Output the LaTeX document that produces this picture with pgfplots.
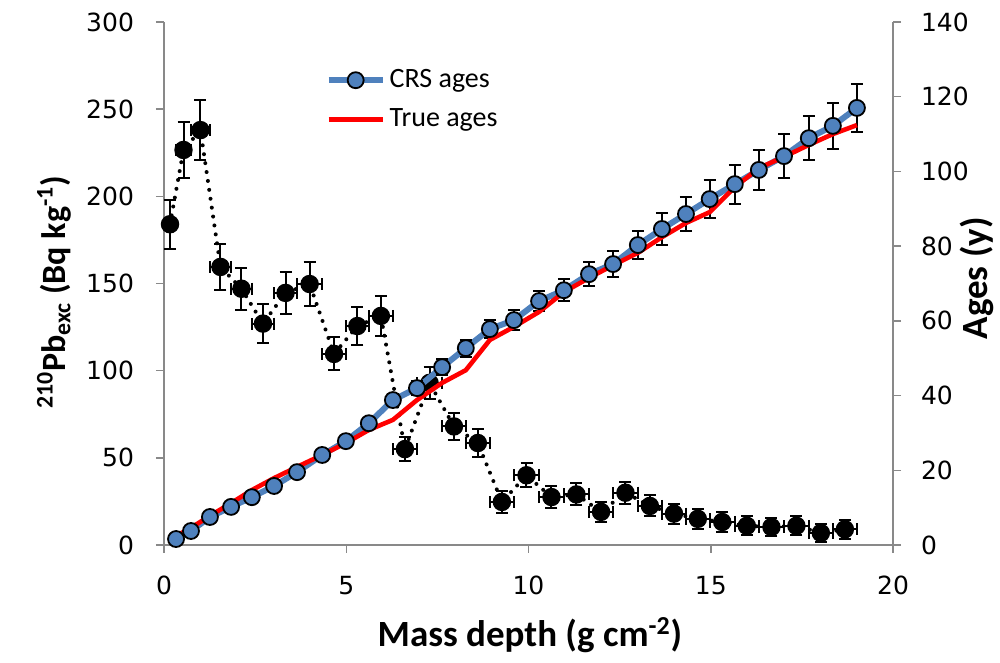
\documentclass[border=0pt]{standalone}
\usepackage{fontspec}
\setmainfont{Carlito}
\newfontfamily\tickfont{DejaVu Sans}
\usepackage{pgfplots}
\pgfplotsset{compat=1.18}
\usepackage{pgfplotstable}
\definecolor{crsblue}{HTML}{4F81BD}
\definecolor{axgray}{HTML}{898989}

\pgfplotstableread{
x xe y ye
0.165 0.165 184 14
0.535 0.205 226.6 16
1.0 0.26 238 17
1.55 0.29 159.5 13
2.125 0.285 147 12
2.715 0.305 127 11
3.335 0.315 144.6 12
3.995 0.345 149.7 12.5
4.665 0.325 109.6 9.5
5.305 0.315 125.6 11
5.95 0.33 131.4 11.5
6.61 0.33 55 7
7.285 0.345 93 9
7.955 0.325 68 8
8.61 0.33 58.5 7.8
9.27 0.33 24.7 6.2
9.945 0.345 40 7
10.63 0.34 27.5 6.2
11.315 0.345 29 6.3
11.99 0.33 19 5.8
12.66 0.34 30 6.3
13.33 0.33 22.4 6
13.99 0.33 18 5.8
14.645 0.325 15 5.6
15.315 0.345 13.2 5.5
15.99 0.33 11 5.5
16.665 0.345 10.3 5.4
17.35 0.34 11 5.5
18.02 0.33 6.9 5.4
18.68 0.33 9 5.4
}\pbdata

\pgfplotstableread{
x y ye t
0.33 1.6 0.3 2.4
0.74 3.75 0.4 4.6
1.26 7.5 0.5 7.8
1.84 10.2 0.6 11.2
2.41 12.8 0.7 14.7
3.02 15.8 0.8 17.9
3.65 19.5 0.9 20.9
4.34 24.1 1.0 24.1
4.99 27.8 1.2 27.3
5.62 32.6 1.4 30.8
6.28 38.8 1.6 33.5
6.94 42.0 1.8 38.8
7.63 47.6 2.1 43.4
8.28 52.7 2.3 46.8
8.94 57.8 2.3 54.9
9.60 60.2 2.7 58.4
10.29 65.3 2.7 62.4
10.97 68.2 2.9 67.7
11.66 72.5 3.2 71.5
12.32 75.2 3.4 74.9
13.0 80.3 3.8 78.2
13.66 84.6 4.2 82.4
14.32 88.6 4.5 86.2
14.97 92.6 5.0 89.1
15.66 96.6 5.2 95.8
16.32 100.4 5.4 100.9
17.01 104.1 5.9 103.9
17.69 108.9 5.9 107.1
18.35 112.2 6.2 110.0
19.01 117.0 6.4 112.4
}\agedata

\begin{document}
\begin{tikzpicture}
\useasboundingbox (-82pt,-59pt) rectangle (418pt,272.5pt);
\pgfplotsset{
  common/.style={
    scale only axis, width=364.5pt, height=261.5pt,
    xmin=0, xmax=20,
    axis line style={axgray, line width=0.75pt},
    tick style={axgray, line width=0.75pt},
    tick align=outside, major tick length=4pt,
    tick label style={font=\tickfont\fontsize{12.5}{14}\selectfont},
    /pgf/number format/assume math mode=true,
    label style={font=\bfseries\fontsize{18.5}{22}\selectfont},
  }
}
\begin{axis}[common,
  ymin=0, ymax=300, ytick={0,50,...,300}, xtick={0,5,...,20},
  axis x line*=bottom, axis y line*=left,
  xticklabel style={yshift=-8pt},
  yticklabel style={xshift=-7.5pt},
  xlabel={Mass depth (g cm\textsuperscript{-2})},
  xlabel style={at={(axis description cs:0.502,-0.172)}, anchor=center},
  ylabel={\textsuperscript{210}Pb\textsubscript{exc} (Bq kg\textsuperscript{-1})},
  ylabel style={at={(axis description cs:-0.151,0.483)}, anchor=center,
    font=\bfseries\fontsize{17}{20}\selectfont},
]
\addplot[black, line width=2pt, dash pattern=on 0pt off 4.5pt, line cap=round,
  mark=*, mark size=3.6pt, mark options={solid, fill=black},
  error bars/.cd, x dir=both, x explicit, y dir=both, y explicit,
  error bar style={solid, line width=1pt, line cap=butt},
  error mark options={rotate=90, mark size=3pt, line width=1pt, solid}]
  table[x=x, y=y, x error=xe, y error=ye]{\pbdata};
\end{axis}
\begin{axis}[common,
  ymin=0, ymax=140, ytick={0,20,...,140},
  axis x line=none, axis y line*=right,
  yticklabel style={xshift=6.5pt},
  ylabel={Ages (y)},
  ylabel style={at={(axis description cs:1.1152,0.51)}, anchor=center},
  legend style={draw=none, fill=none, at={(axis description cs:0.213,0.925)}, anchor=north west,
    font=\fontsize{14}{17}\selectfont, row sep=5pt},
  legend cell align=left,
  legend image code/.code={\draw[mark repeat=2,mark phase=2,#1] plot coordinates {(0pt,0pt) (13.5pt,0pt) (27pt,0pt)};},
]
\addplot[crsblue, line width=3pt, mark=*, mark size=4pt,
  mark options={fill=crsblue, draw=black, line width=0.9pt},
  error bars/.cd, y dir=both, y explicit,
  error bar style={black, line width=1pt},
  error mark options={rotate=90, black, mark size=3pt, line width=1pt}]
  table[x=x, y=y, y error=ye]{\agedata};
\addlegendentry{CRS ages}
\addplot[red, line width=2.3pt, no marks] table[x=x, y=t]{\agedata};
\addlegendentry{True ages}
\end{axis}
\end{tikzpicture}
\end{document}
